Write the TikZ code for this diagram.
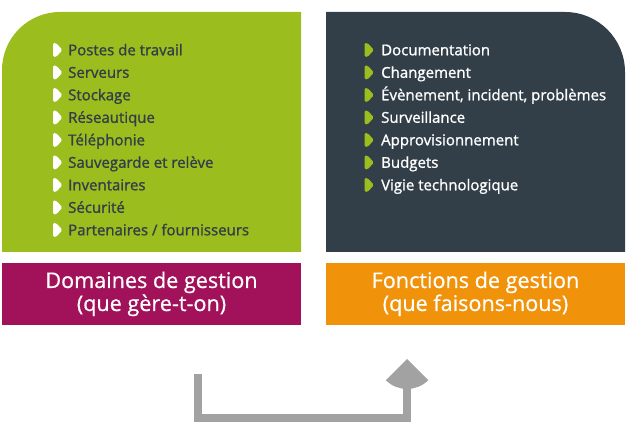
\documentclass[tikz,border=0pt]{standalone}
\usepackage{fontspec}
\setmainfont{Open Sans}
\newfontfamily\semib{Open Sans}[FakeBold=1.2]
\newfontfamily\semil{Open Sans}[FakeBold=0.6]
\definecolor{gbox}{HTML}{9BBE1E}
\definecolor{dbox}{HTML}{323E48}
\definecolor{mbox}{HTML}{A1125B}
\definecolor{obox}{HTML}{F0920A}
\definecolor{garrow}{HTML}{A2A2A2}
\tikzset{
  item/.style={anchor=base west, inner sep=0pt, font=\semib\fontsize{15}{16}\selectfont},
  labbox/.style={inner sep=0pt, minimum width=299pt, minimum height=62pt},
  labtext/.style={anchor=base, inner sep=0pt, text=white, font=\semil\fontsize{21.6}{23}\selectfont},
  bulletshape/.pic={\fill[rounded corners=1.5pt] (-4.5,-7)--(-1.5,-7)--(5,0)--(-1.5,7)--(-4.5,7)--cycle;}
}
\begin{document}
\begin{tikzpicture}[x=1pt,y=-1pt]
\useasboundingbox (0,0) rectangle (627,435);
% upper panels
\fill[gbox] (2,252) -- (2,70) arc[start angle=180, end angle=90, radius=58pt] -- (301,12) -- (301,252) -- cycle;
\fill[dbox] (326,252) -- (326,12) -- (565,12) arc[start angle=90, end angle=0, radius=60pt] -- (625,252) -- cycle;
% left list
\foreach \t [count=\i from 0] in {Postes de travail, Serveurs, Stockage, Réseautique, Téléphonie, Sauvegarde et relève, Inventaires, Sécurité, Partenaires / fournisseurs}{
  \pic[white] at (57.5,{50+22.5*\i}) {bulletshape};
  \node[item, text=dbox] (l\i) at (68,{55.3+22.5*\i}) {\t};
}
% right list
\foreach \t [count=\i from 0] in {Documentation, Changement, {Évènement, incident, problèmes}, Surveillance, Approvisionnement, Budgets, Vigie technologique}{
  \pic[gbox] at (369,{50+22.5*\i}) {bulletshape};
  \node[item, text=white] (r\i) at (381,{55.3+22.5*\i}) {\t};
}
% label boxes
\node[labbox, fill=mbox] (dom) at (151.5,294) {};
\node[labbox, fill=obox] (fon) at (475.5,294) {};
\node[labtext] (dom1) at (151.5,288) {Domaines de gestion};
\node[labtext] (dom2) at (151.5,311) {(que gère-t-on)};
\node[labtext] (fon1) at (475.5,288) {Fonctions de gestion};
\node[labtext] (fon2) at (475.5,311) {(que faisons-nous)};
% arrow
\coordinate (as) at (198,374);
\coordinate (ac1) at (198,418);
\coordinate (ac2) at (407,418);
\coordinate (ae) at (407,386);
\coordinate (tip) at (407,359);
\draw[garrow, line width=8pt] (as) -- (ac1) -- (ac2) -- (ae);
\fill[garrow] (tip) -- ++(-21.2,21.2) arc[start angle=225, end angle=315, radius=30pt] -- cycle;
\end{tikzpicture}
\end{document}
